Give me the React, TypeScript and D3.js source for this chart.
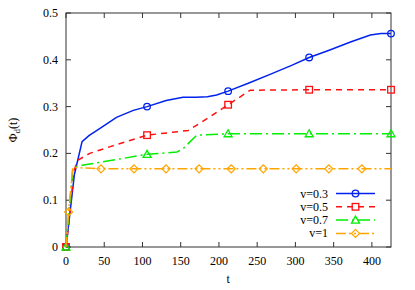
import React, { useEffect, useRef } from "react";
import * as d3 from "d3";

// values
const tBlue = [0, 5, 11, 21, 30, 44, 66, 88, 106, 131, 153, 170, 185, 197, 212, 240, 270, 295, 318, 345, 372, 398, 412, 425];
const vBlue = [0, 0.07, 0.155, 0.225, 0.238, 0.253, 0.277, 0.292, 0.3, 0.313, 0.32, 0.32, 0.321, 0.325, 0.333, 0.351, 0.371, 0.388, 0.405, 0.421, 0.438, 0.453, 0.456, 0.456];
const tRed = [0, 5, 10, 15, 31, 57, 106, 160, 188, 212, 241, 318, 425];
const vRed = [0, 0.07, 0.16, 0.185, 0.2, 0.214, 0.239, 0.249, 0.278, 0.304, 0.335, 0.336, 0.336];
const tGreen = [0, 9, 12, 23, 106, 145, 153, 171, 212, 318, 425];
const vGreen = [0, 0.168, 0.171, 0.175, 0.198, 0.203, 0.21, 0.239, 0.242, 0.242, 0.242];
const tOrange = [0, 3.4, 8.6, 10, 45.7, 88.9, 130.8, 174, 216, 258, 301, 343.7, 386.9, 425];
const vOrange = [0, 0.075, 0.167, 0.17, 0.167, 0.167, 0.167, 0.167, 0.167, 0.167, 0.167, 0.167, 0.167, 0.167];
// which t values carry a marker
const markBlue = [0, 106, 212, 318, 425];
const markRed = [0, 106, 212, 318, 425];
const markGreen = [0, 106, 212, 318, 425];
const markOrange = [3.4, 45.7, 88.9, 130.8, 174, 216, 258, 301, 343.7, 386.9];

const labels = ["v=0.3", "v=0.5", "v=0.7", "v=1"];
const xTicks = [0, 50, 100, 150, 200, 250, 300, 350, 400];
const yTicks = [0, 0.1, 0.2, 0.3, 0.4, 0.5];

const App = () => {
  const ref = useRef<SVGSVGElement>(null);

  useEffect(() => {
    const width = 415;
    const height = 290;
    const margin = { top: 13, left: 66, bottom: 43, right: 24 };
    const iwidth = width - margin.left - margin.right;
    const iheight = height - margin.top - margin.bottom;
    const font = "'Liberation Serif', 'DejaVu Serif', serif";
    const fs = 12;

    const svg = d3.select(ref.current).attr("width", width).attr("height", height);
    svg.selectAll("*").remove();
    const g = svg.append("g").attr("transform", `translate(${margin.left},${margin.top})`);

    const x = d3.scaleLinear().domain([0, 425]).range([0, iwidth]);
    const y = d3.scaleLinear().domain([0, 0.5]).range([iheight, 0]);

    const series = [
      { t: tBlue, v: vBlue, marks: markBlue, color: "#0022ee", dash: null, shape: "circle" },
      { t: tRed, v: vRed, marks: markRed, color: "#ff1010", dash: "6,5", shape: "square" },
      { t: tGreen, v: vGreen, marks: markGreen, color: "#00ee00", dash: "12,4,2,4", shape: "triangle" },
      { t: tOrange, v: vOrange, marks: markOrange, color: "#ffa500", dash: "10,3,2,3,2,3", shape: "diamond" },
    ];

    const line = d3
      .line<[number, number]>()
      .x((d) => x(d[0]))
      .y((d) => y(d[1]));

    const drawMarker = (sel, shape, color, cx, cy) => {
      if (shape === "circle") {
        sel.append("circle").attr("cx", cx).attr("cy", cy).attr("r", 3.3)
          .attr("fill", "none").attr("stroke", color).attr("stroke-width", 1.3);
      } else if (shape === "square") {
        sel.append("rect").attr("x", cx - 3.3).attr("y", cy - 3.3).attr("width", 6.6).attr("height", 6.6)
          .attr("fill", "none").attr("stroke", color).attr("stroke-width", 1.3);
      } else if (shape === "triangle") {
        sel.append("path").attr("d", `M${cx},${cy - 4}L${cx + 4},${cy + 3}L${cx - 4},${cy + 3}Z`)
          .attr("fill", "none").attr("stroke", color).attr("stroke-width", 1.3);
      } else {
        sel.append("path").attr("d", `M${cx},${cy - 4}L${cx + 4},${cy}L${cx},${cy + 4}L${cx - 4},${cy}Z`)
          .attr("fill", "none").attr("stroke", color).attr("stroke-width", 1.3);
      }
    };

    // frame + inward ticks on all four sides
    g.append("rect").attr("width", iwidth).attr("height", iheight)
      .attr("fill", "none").attr("stroke", "#333").attr("stroke-width", 1);

    const tickLen = 5;
    xTicks.forEach((t) => {
      g.append("line").attr("x1", x(t)).attr("x2", x(t)).attr("y1", iheight).attr("y2", iheight - tickLen).attr("stroke", "#333");
      g.append("line").attr("x1", x(t)).attr("x2", x(t)).attr("y1", 0).attr("y2", tickLen).attr("stroke", "#333");
      g.append("text").attr("x", x(t)).attr("y", iheight + 18).attr("text-anchor", "middle")
        .attr("font-family", font).attr("font-size", fs).text(t);
    });
    yTicks.forEach((v) => {
      g.append("line").attr("x1", 0).attr("x2", tickLen).attr("y1", y(v)).attr("y2", y(v)).attr("stroke", "#333");
      g.append("line").attr("x1", iwidth).attr("x2", iwidth - tickLen).attr("y1", y(v)).attr("y2", y(v)).attr("stroke", "#333");
      g.append("text").attr("x", -8).attr("y", y(v) + 4).attr("text-anchor", "end")
        .attr("font-family", font).attr("font-size", fs).text(v === 0 ? "0" : d3.format(".1f")(v));
    });

    // axis labels
    svg.append("text").attr("x", margin.left + x(212)).attr("y", 283).attr("text-anchor", "middle")
      .attr("font-family", font).attr("font-size", fs).text("t");
    const yl = svg.append("text").attr("transform", `translate(17,${margin.top + y(0.25)}) rotate(-90)`)
      .attr("text-anchor", "middle").attr("font-family", font).attr("font-size", fs);
    yl.append("tspan").text("Φ");
    yl.append("tspan").attr("font-size", 9).attr("dy", 3).text("d");
    yl.append("tspan").attr("dy", -3).text("(t)");

    // series lines and markers
    series.forEach((s) => {
      const pts = s.t.map((t, i) => [t, s.v[i]] as [number, number]);
      g.append("path").attr("d", line(pts)).attr("fill", "none").attr("stroke", s.color)
        .attr("stroke-width", 1.5).attr("stroke-dasharray", s.dash);
      const mg = g.append("g");
      s.marks.forEach((t) => {
        const i = s.t.indexOf(t);
        drawMarker(mg, s.shape, s.color, x(t), y(s.v[i]));
      });
    });

    // legend
    const lg = svg.append("g");
    series.forEach((s, i) => {
      const ly = 193.5 + i * 13.3;
      lg.append("text").attr("x", 328).attr("y", ly + 4).attr("text-anchor", "end")
        .attr("font-family", font).attr("font-size", fs).text(labels[i]);
      lg.append("line").attr("x1", 336).attr("x2", 375).attr("y1", ly).attr("y2", ly)
        .attr("stroke", s.color).attr("stroke-width", 1.5).attr("stroke-dasharray", s.dash);
      drawMarker(lg, s.shape, s.color, 355.5, ly);
    });
  });

  return (
    <div style={{ position: "absolute", left: 0, top: 0 }}>
      <svg ref={ref}></svg>
    </div>
  );
};

export default App;
